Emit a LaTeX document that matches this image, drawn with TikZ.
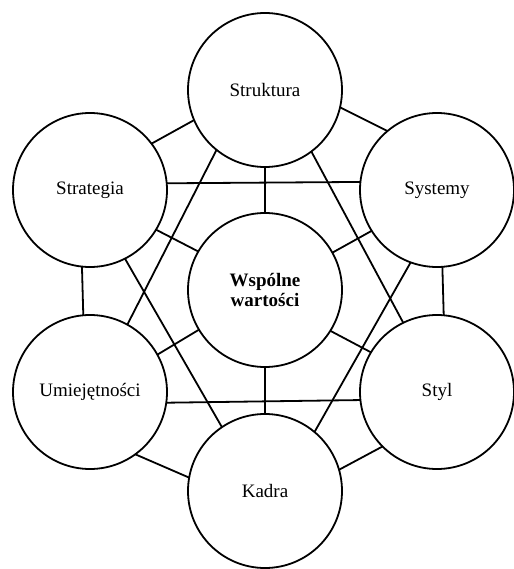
\documentclass[tikz,border=0pt]{standalone}
\usepackage{fontspec}
\setmainfont{Liberation Serif}
\usepackage{tikz}
\usetikzlibrary{positioning}

\begin{document}
\begin{tikzpicture}[x=1pt,y=-1pt,line width=1.8pt,
	elem/.style={circle,draw,minimum size=154pt,inner sep=0pt,outer sep=0pt,font=\fontsize{19}{20}\selectfont},
	core/.style={elem,align=center,font=\fontsize{19}{20}\selectfont\bfseries}]
\useasboundingbox (0,0) rectangle (513,569);
\node[elem]		(s_struk)	at (265,90)		{Struktura};
\node[elem]		(s_strat)	at (90,190)		{Strategia};
\node[elem]		(s_syst)	at (437,190)	{Systemy};
\node[core]		(s_wart)	at (265,290)	{Wspólne\\wartości};
\node[elem]		(s_umie)	at (90,392)		{Umiejętności};
\node[elem]		(s_styl)	at (437,392)	{Styl};
\node[elem]		(s_kadra)	at (265,491)	{Kadra};
\path
(s_struk.203.7)		edge	(s_strat.37.2)
(s_struk.347.6)		edge	(s_syst.130.8)
(s_strat.264.8)		edge	(s_umie.95.2)
(s_syst.274.5)		edge	(s_styl.85.5)
(s_umie.306.9)		edge	(s_kadra.170.4)
(s_styl.225.5)		edge	(s_kadra.16.6)

(s_struk.270)		edge	(s_wart.90)
(s_wart.270)		edge	(s_kadra.90)
(s_strat.329.5)		edge	(s_wart.150.2)
(s_syst.212.2)		edge	(s_wart.29.2)
(s_umie.29.8)		edge	(s_wart.211.7)
(s_styl.149)		edge	(s_wart.328.3)

(s_strat.5.2)		edge	(s_syst.174.8)
(s_umie.352.5)		edge	(s_styl.186.7)

(s_struk.231.1)		edge	(s_umie.61.2)
(s_struk.307.7)		edge	(s_styl.116.2)
(s_strat.297.9)		edge	(s_kadra.124.7)
(s_syst.250.9)		edge	(s_kadra.50.3)
;
\end{tikzpicture}
\end{document}
